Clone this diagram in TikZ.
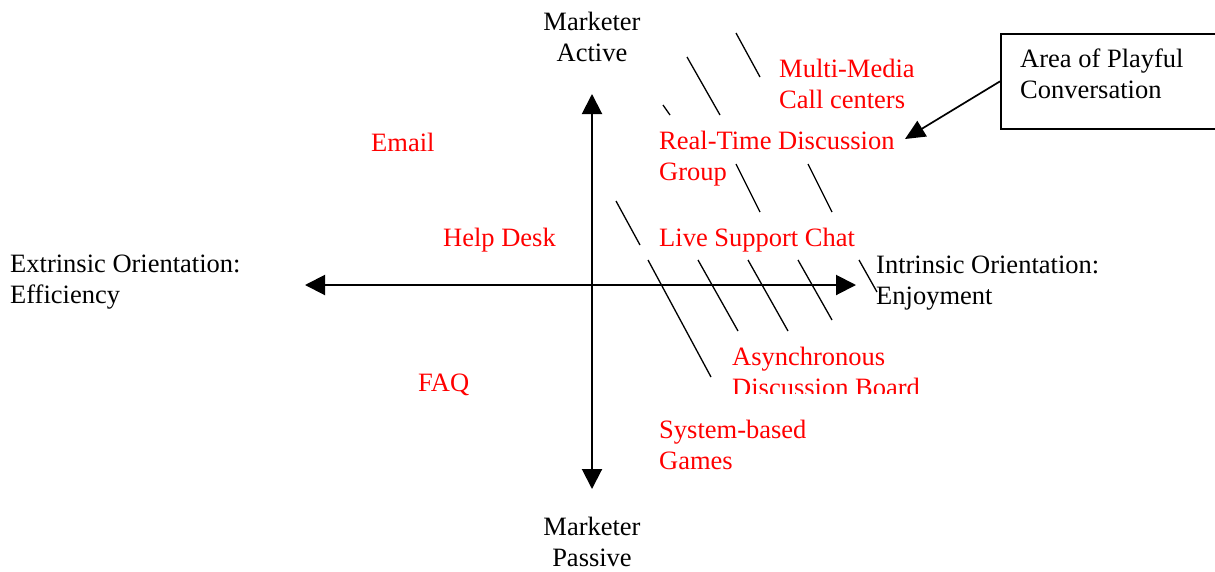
\documentclass[tikz,border=0pt]{standalone}
\usepackage{fontspec}
\setmainfont{Liberation Serif}
\usetikzlibrary{arrows.meta}

\begin{document}
\begin{tikzpicture}[x=1pt,y=-1pt,
    axis/.style={line width=2pt,{Triangle[length=20pt,width=20pt]}-{Triangle[length=20pt,width=20pt]}},
    hatch/.style={line width=1.3pt},
    lbl/.style={inner sep=0pt,anchor=base west,align=left,font=\fontsize{26.5}{31}\selectfont},
    red lbl/.style={lbl,text=red},
    callout/.style={draw,line width=1.7pt,minimum width=230pt,minimum height=95pt,anchor=north west}]
\clip (0,0) rectangle (1215,571);

% axes
\coordinate (top) at (592,94);
\coordinate (bottom) at (592,489);
\coordinate (left) at (305,285);
\coordinate (right) at (856,285);
\draw[axis] (bottom) -- (top);
\draw[axis] (left) -- (right);

% shaded area
\foreach \xa/\ya/\xb/\yb in {736/33/760/77, 687/57/720/115, 663/105/670/115,
    736/164/760/212, 808/164/832/212, 616/201/640/245, 648/260/711/377,
    698/260/738/331, 748/260/788/331, 798/260/832/320, 859/260/877/292}
  \draw[hatch] (\xa,\ya) -- (\xb,\yb);

% labels (placed at the baseline of their last line)
\node[lbl,anchor=base,align=center] (active) at (592,61) {Marketer\\Active};
\node[lbl,anchor=base,align=center] (passive) at (592,566) {Marketer\\Passive};
\node[lbl] (extrinsic) at (10,303) {Extrinsic Orientation:\\Efficiency};
\node[lbl] (intrinsic) at (876,304) {Intrinsic Orientation:\\Enjoyment};

\node[red lbl] (email) at (371,151) {Email};
\node[red lbl] (helpdesk) at (443,246) {Help Desk};
\node[red lbl] (faq) at (418,391) {FAQ};
\node[red lbl] (multimedia) at (779,108) {Multi-Media\\Call centers};
\node[red lbl] (realtime) at (659,180) {Real-Time Discussion\\Group};
\node[red lbl] (livechat) at (659,246) {Live Support Chat};
\begin{scope}
  \clip (700,330) rectangle (950,393);
  \node[red lbl] (async) at (732,396) {Asynchronous\\Discussion Board};
\end{scope}
\node[red lbl] (games) at (659,469) {System-based\\Games};

% note box
\node[callout] (playful) at (1000,33) {};
\node[lbl] (playfultext) at (1020,98) {Area of Playful\\Conversation};
\coordinate (target) at (905,139);
\draw[line width=1.7pt,-{Triangle[length=20pt,width=18pt]}] (playful.west) -- (target);
\end{tikzpicture}
\end{document}
